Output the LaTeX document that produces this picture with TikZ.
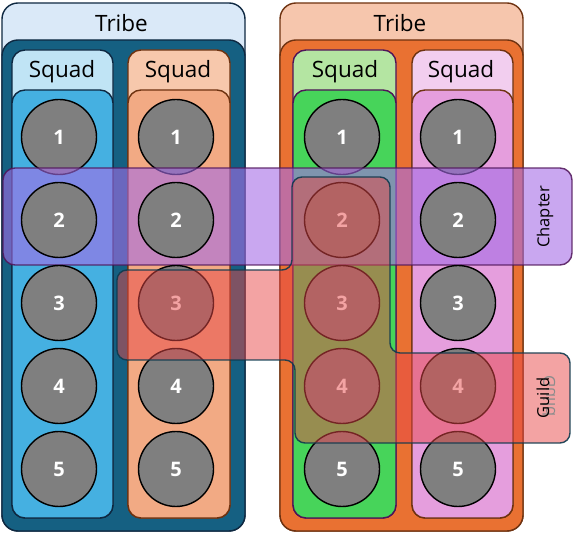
\documentclass[tikz,border=0pt]{standalone}
\usepackage{fontspec}
\setmainfont{Open Sans}
\usetikzlibrary{positioning}
\definecolor{navy}{HTML}{0E2841}
\definecolor{tribeLB}{HTML}{DAE9F8}
\definecolor{tribeLD}{HTML}{156082}
\definecolor{tribeRB}{HTML}{F6C6AD}
\definecolor{tribeRD}{HTML}{E97132}
\definecolor{brownE}{HTML}{6E3210}
\definecolor{sqBlueL}{HTML}{C0E4F5}
\definecolor{sqBlue}{HTML}{45B0E1}
\definecolor{sqOrL}{HTML}{F7C8AC}
\definecolor{sqOr}{HTML}{F2AA84}
\definecolor{sqGrL}{HTML}{B4E5A2}
\definecolor{sqGr}{HTML}{47D45A}
\definecolor{sqPkL}{HTML}{F2CEEF}
\definecolor{sqPk}{HTML}{E59EDD}
\definecolor{purpE}{HTML}{4F1458}
\definecolor{chapF}{RGB}{165,108,230}
\definecolor{guildF}{RGB}{232,72,72}
\definecolor{guildE}{HTML}{0E3A4E}
\definecolor{circG}{HTML}{7F7F7F}
\tikzset{
  boxshape/.style={line width=1.4pt, rounded corners=13pt},
  circ/.style={circle, minimum size=75pt, inner sep=0pt, fill=circG, draw=black, line width=1.4pt, text=white, font=\fontsize{20}{20}\selectfont\bfseries},
  lbl/.style={font=\fontsize{22.5}{22.5}\selectfont, text=black, inner sep=0pt},
  sidelbl/.style={font=\fontsize{16.5}{16.5}\selectfont, text=black, inner sep=0pt, rotate=90}
}
\begin{document}
\begin{tikzpicture}[x=1pt,y=-1pt]
\useasboundingbox (0,0) rectangle (573,534);
% left tribe
\draw[boxshape, rounded corners=16pt, fill=tribeLB, draw=navy] (2,3) rectangle (245,531);
\draw[boxshape, rounded corners=16pt, fill=tribeLD, draw=navy] (2,40) rectangle (245,531);
\node[lbl] (tribeL) at (121.5,23) {Tribe};
% right tribe
\draw[boxshape, rounded corners=16pt, fill=tribeRB, draw=brownE] (280,3) rectangle (523,531);
\draw[boxshape, rounded corners=16pt, fill=tribeRD, draw=brownE] (280,40) rectangle (523,531);
\node[lbl] (tribeR) at (400,23) {Tribe};
% squads
\draw[boxshape, fill=sqBlueL, draw=navy] (12,50) rectangle (113,518);
\draw[boxshape, fill=sqBlue, draw=navy] (12,90) rectangle (113,518);
\node[lbl] (sq1) at (62,72) {Squad};
\draw[boxshape, fill=sqOrL, draw=brownE] (128,50) rectangle (230,518);
\draw[boxshape, fill=sqOr, draw=brownE] (128,90) rectangle (230,518);
\node[lbl] (sq2) at (178,72) {Squad};
\draw[boxshape, fill=sqGrL, draw=purpE] (293,50) rectangle (396,518);
\draw[boxshape, fill=sqGr, draw=purpE] (293,90) rectangle (396,518);
\node[lbl] (sq3) at (345,72) {Squad};
\draw[boxshape, fill=sqPkL, draw=brownE] (412,50) rectangle (513,518);
\draw[boxshape, fill=sqPk, draw=brownE] (412,90) rectangle (513,518);
\node[lbl] (sq4) at (461,72) {Squad};
% row 1 circles
\node[circ] (a1) at (59,137) {1};
\node[circ] (b1) at (176,137) {1};
\node[circ] (c1) at (342,137) {1};
\node[circ] (d1) at (458,137) {1};
% chapter
\draw[rounded corners=12pt, fill=chapF, fill opacity=0.6, draw=purpE, line width=1.4pt, draw opacity=0.85] (3,168) rectangle (572,265);
% circles rows 2-5
\foreach \r/\yy in {2/220,3/303,4/386,5/469}{
  \node[circ] (a\r) at (59,\yy) {\r};
  \node[circ] (b\r) at (176,\yy) {\r};
  \node[circ] (c\r) at (342,\yy) {\r};
  \node[circ] (d\r) at (458,\yy) {\r};
}
\node[sidelbl] (chapter) at (545,217) {Chapter};
% guild
\draw[rounded corners=10pt, fill=guildF, fill opacity=0.5, draw=guildE, line width=1.4pt, draw opacity=0.9]
  (117,270) -- (292,270) -- (292,177) -- (390,177) -- (390,353) -- (570,353) -- (570,443) -- (295,443) -- (295,360) -- (117,360) -- cycle;
\node[sidelbl, text=black!45, xscale=-1] (guildghost) at (549,396) {Guild};
\node[sidelbl] (guild) at (543,398) {Guild};
\end{tikzpicture}
\end{document}
